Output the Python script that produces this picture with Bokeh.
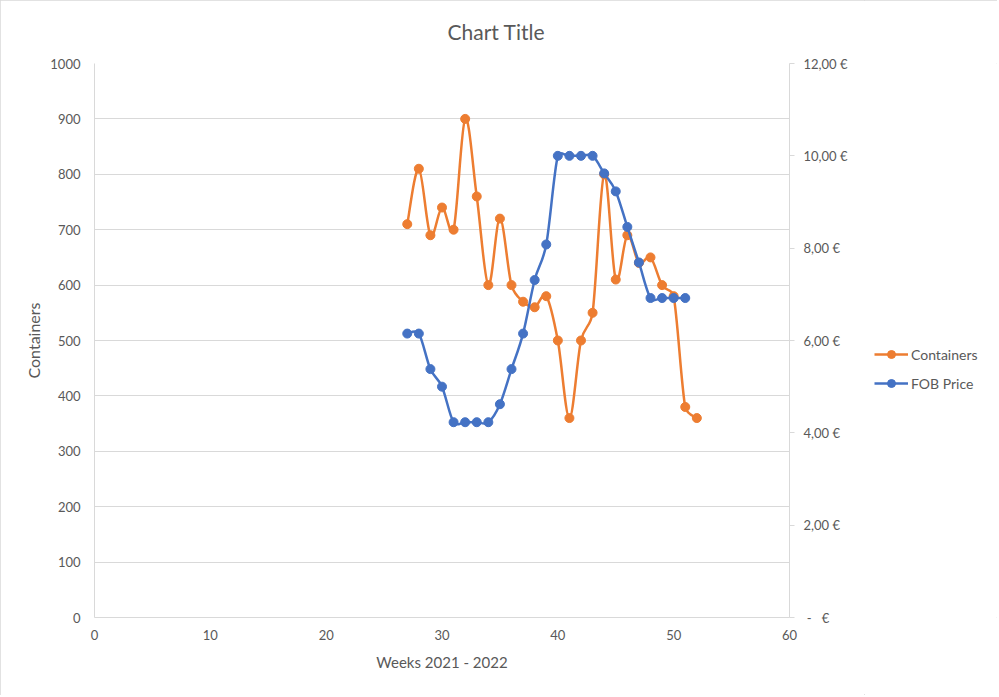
import numpy as np
from bokeh.plotting import figure
from bokeh.layouts import row
from bokeh.models import (Range1d, LinearAxis, Legend, LegendItem, ColumnDataSource,
                          CustomJSTickFormatter, FixedTicker, Title)
from bokeh.embed import file_html
from bokeh.resources import INLINE

weeks_c = [27, 28, 29, 30, 31, 32, 33, 34, 35, 36, 37, 38, 39, 40, 41, 42, 43, 44, 45, 46, 47, 48, 49, 50, 51, 52]
containers = [710, 810, 690, 740, 700, 900, 760, 600, 720, 600, 570, 560, 580, 500, 360, 500, 550, 800, 610, 690, 640, 650, 600, 580, 380, 360]
weeks_p = [27, 28, 29, 30, 31, 32, 33, 34, 35, 36, 37, 38, 39, 40, 41, 42, 43, 44, 45, 46, 47, 48, 49, 50, 51]
fob_price = [6.15, 6.15, 5.38, 5.00, 4.23, 4.23, 4.23, 4.23, 4.62, 5.38, 6.15, 7.31, 8.08, 10.0, 10.0, 10.0, 10.0, 9.62, 9.23, 8.46, 7.69, 6.92, 6.92, 6.92, 6.92]

ORANGE = "#ED7D31"
BLUE = "#4472C4"
GREY = "#595959"
GRID = "#D9D9D9"
FONT = "Lato"

FRAME_W, FRAME_H = 695, 554
X_MAX, Y_MAX, P_MAX = 60, 1000, 12


def smooth_source(x, y, sx, sy):
    """Excel-like smoothed line: cubic Bezier segments, tangents clamped in screen space."""
    x = np.asarray(x, float) * sx
    y = np.asarray(y, float) * sy
    n = len(x)
    xp = np.concatenate([[x[0]], x, [x[-1]]])
    yp = np.concatenate([[y[0]], y, [y[-1]]])
    cols = {k: [] for k in ("x0", "y0", "x1", "y1", "cx0", "cy0", "cx1", "cy1")}
    for i in range(n - 1):
        a, b, c, d = i, i + 1, i + 2, i + 3
        seg = np.hypot(xp[c] - xp[b], yp[c] - yp[b])
        l1 = np.array([xp[c] - xp[a], yp[c] - yp[a]]) / 6.0
        l2 = np.array([xp[d] - xp[b], yp[d] - yp[b]]) / 6.0
        for leg in (l1, l2):
            ln = np.hypot(*leg)
            if ln > seg / 2 and ln > 0:
                leg *= (seg / 2) / ln
        cols["x0"].append(xp[b] / sx); cols["y0"].append(yp[b] / sy)
        cols["x1"].append(xp[c] / sx); cols["y1"].append(yp[c] / sy)
        cols["cx0"].append((xp[b] + l1[0]) / sx); cols["cy0"].append((yp[b] + l1[1]) / sy)
        cols["cx1"].append((xp[c] - l2[0]) / sx); cols["cy1"].append((yp[c] - l2[1]) / sy)
    return ColumnDataSource(cols)


p = figure(frame_width=FRAME_W, frame_height=FRAME_H, output_backend="svg", toolbar_location=None,
           x_range=Range1d(0, X_MAX), y_range=Range1d(0, Y_MAX),
           min_border_left=94, min_border_right=75, min_border_top=63, min_border_bottom=78,
           background_fill_color="white", border_fill_color="white")
p.outline_line_color = None
p.title = Title(text="Chart Title", align="left", offset=353, standoff=36, vertical_align="top",
                text_font=FONT, text_font_size="21px", text_font_style="normal", text_color=GREY)

p.extra_y_ranges = {"price": Range1d(0, P_MAX)}

p.xgrid.grid_line_color = None
p.ygrid.grid_line_color = GRID
p.ygrid.grid_line_width = 1

xa = p.xaxis[0]
xa.ticker = FixedTicker(ticks=[0, 10, 20, 30, 40, 50, 60])
xa.axis_label = "Weeks 2021 - 2022"
ya = p.yaxis[0]
ya.ticker = FixedTicker(ticks=list(range(0, 1001, 100)))
ya.axis_label = "Containers"

ra = LinearAxis(y_range_name="price", ticker=FixedTicker(ticks=[0, 2, 4, 6, 8, 10, 12]))
ra.formatter = CustomJSTickFormatter(code="""
if (Math.abs(tick) < 1e-9) { return "\u00a0-\u00a0\u00a0\u00a0\u20ac"; }
return tick.toFixed(2).replace('.', ',') + "\u00a0\u20ac";
""")
p.add_layout(ra, "right")

for ax in (xa, ya, ra):
    ax.axis_line_color = GRID
    ax.major_tick_line_color = GRID
    ax.minor_tick_line_color = None
    ax.major_tick_in = 0
    ax.major_tick_out = 0
    ax.major_label_text_font = FONT
    ax.major_label_text_font_size = "13px"
    ax.major_label_text_color = GREY
    ax.axis_label_text_font = FONT
    ax.axis_label_text_font_size = "15px"
    ax.axis_label_text_font_style = "normal"
    ax.axis_label_text_color = GREY
ya.axis_label_text_font_size = "16px"
ra.major_tick_out = 5
ra.major_label_standoff = 9
ra.major_label_text_align = "left"
xa.major_label_standoff = 12
xa.axis_label_standoff = 10
ya.major_label_standoff = 14
ya.axis_label_standoff = 4

sx = FRAME_W / X_MAX
src_c = smooth_source(weeks_c, containers, sx, FRAME_H / Y_MAX)
p.bezier(x0="x0", y0="y0", x1="x1", y1="y1", cx0="cx0", cy0="cy0", cx1="cx1", cy1="cy1",
         source=src_c, line_color=ORANGE, line_width=2.5)
p.scatter(weeks_c, containers, size=9, fill_color=ORANGE, line_color=ORANGE)

src_p = smooth_source(weeks_p, fob_price, sx, FRAME_H / P_MAX)
p.bezier(x0="x0", y0="y0", x1="x1", y1="y1", cx0="cx0", cy0="cy0", cx1="cx1", cy1="cy1",
         source=src_p, line_color=BLUE, line_width=2.5, y_range_name="price")
p.scatter(weeks_p, fob_price, size=9, fill_color=BLUE, line_color=BLUE, y_range_name="price")

# legend panel: separate figure to the right; its renderers carry the series data
# but lie outside its (empty) view, so only the legend is visible there.
lg = figure(width=997 - (94 + FRAME_W + 75), height=695, output_backend="svg", toolbar_location=None,
            x_range=Range1d(-2, -1), y_range=Range1d(-2, -1), x_axis_location=None, y_axis_location=None,
            min_border=0, background_fill_color="white", border_fill_color="white")
lg.outline_line_color = None
lg.grid.visible = False
lc = lg.line(weeks_c, containers, line_color=ORANGE, line_width=2.5)
lcm = lg.scatter(weeks_c, containers, size=9, fill_color=ORANGE, line_color=ORANGE)
lp = lg.line(weeks_p, fob_price, line_color=BLUE, line_width=2.5)
lpm = lg.scatter(weeks_p, fob_price, size=9, fill_color=BLUE, line_color=BLUE)
legend = Legend(items=[LegendItem(label="Containers", renderers=[lc, lcm]),
                       LegendItem(label="FOB Price", renderers=[lp, lpm])],
                location=(10, 224), orientation="vertical",
                border_line_color=None, background_fill_alpha=0,
                label_text_font=FONT, label_text_font_size="14px", label_text_color=GREY,
                glyph_width=34, glyph_height=20, label_height=20, spacing=9,
                padding=0, margin=0, label_standoff=3)
lg.add_layout(legend, "center")

layout = row(p, lg, spacing=0)
layout.styles = {"outline": "1px solid #D9D9D9", "outline-offset": "-1px"}

open("out.html", "w").write(file_html(layout, INLINE))
